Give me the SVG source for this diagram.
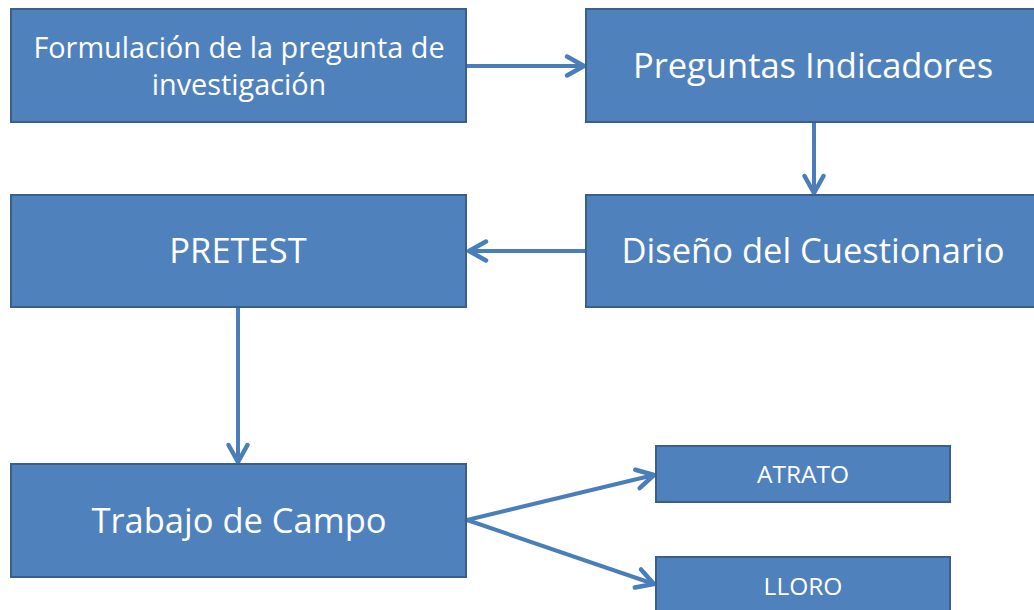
<svg xmlns="http://www.w3.org/2000/svg" width="1034" height="610" viewBox="0 0 1034 610">
<style>
.box{fill:#4F81BD;stroke:#3A5F8B;stroke-width:2}
.t{fill:#FFFFFF;font-family:"Open Sans","Liberation Sans",sans-serif;text-anchor:middle}
.c{fill:none;stroke:#4A7EBB;stroke-width:4}
</style>
<defs>
<marker id="ah" markerUnits="userSpaceOnUse" viewBox="-24 -14 28 28" markerWidth="28" markerHeight="28" refX="0" refY="0" orient="auto" overflow="visible">
<path d="M-17,-9.5 L0,0 L-17,9.5" fill="none" stroke="#4A7EBB" stroke-width="4.5" stroke-linecap="round" stroke-linejoin="round"/>
</marker>
</defs>
<rect width="1034" height="610" fill="#FFFFFF"/>
<g id="connectors">
<line class="c" x1="467" y1="66" x2="584" y2="66" marker-end="url(#ah)"/>
<line class="c" x1="814" y1="122" x2="814" y2="193" marker-end="url(#ah)"/>
<line class="c" x1="585" y1="251" x2="469" y2="251" marker-end="url(#ah)"/>
<line class="c" x1="238" y1="308" x2="238" y2="462" marker-end="url(#ah)"/>
<line class="c" x1="467" y1="520" x2="654" y2="475" marker-end="url(#ah)"/>
<line class="c" x1="467" y1="520" x2="654" y2="584" marker-end="url(#ah)"/>
</g>
<g id="n1">
<rect class="box" x="11" y="9" width="455" height="113"/>
<text class="t" x="239" y="57.5" font-size="28.8">Formulación de la pregunta de</text>
<text class="t" x="239" y="95" font-size="28.8">investigación</text>
</g>
<g id="n2">
<rect class="box" x="586" y="9" width="455" height="113"/>
<text class="t" x="813" y="78" font-size="34.5">Preguntas Indicadores</text>
</g>
<g id="n3">
<rect class="box" x="11" y="195" width="455" height="112"/>
<text class="t" x="238" y="263" font-size="34.5">PRETEST</text>
</g>
<g id="n4">
<rect class="box" x="586" y="195" width="455" height="112"/>
<text class="t" x="813" y="263" font-size="34.5">Diseño del Cuestionario</text>
</g>
<g id="n5">
<rect class="box" x="11" y="464" width="455" height="113"/>
<text class="t" x="239" y="533" font-size="34.5">Trabajo de Campo</text>
</g>
<g id="n6">
<rect class="box" x="656" y="446" width="294" height="56"/>
<text class="t" x="803" y="483" font-size="24.5">ATRATO</text>
</g>
<g id="n7">
<rect class="box" x="656" y="557" width="294" height="56"/>
<text class="t" x="803" y="595" font-size="24.5">LLORO</text>
</g>
</svg>
